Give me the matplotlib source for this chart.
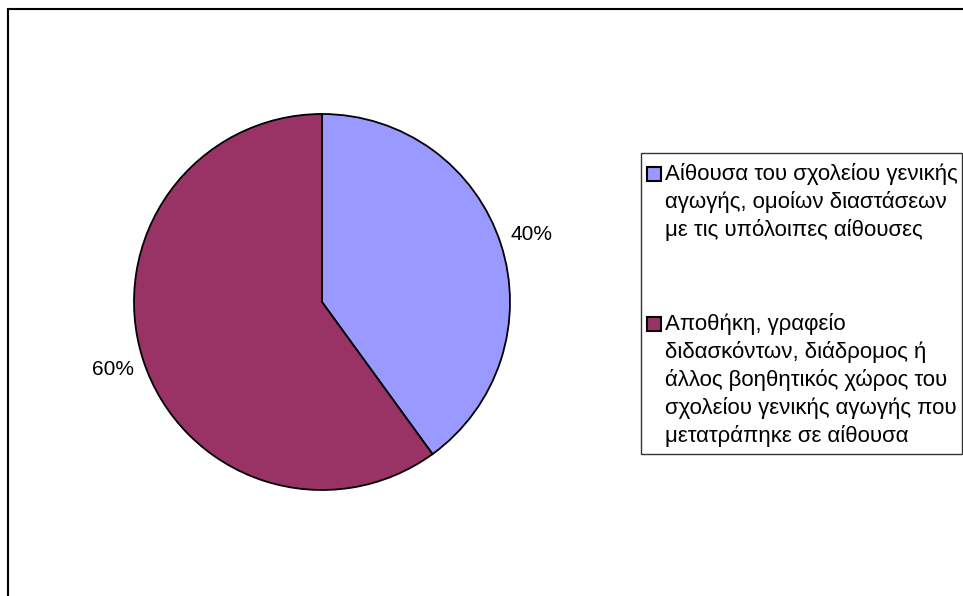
import matplotlib.pyplot as plt
import matplotlib.patches as mpatches
import numpy as np

plt.rcParams['font.family'] = ['Liberation Sans', 'DejaVu Sans']

labels = [
    "Αίθουσα του σχολείου γενικής\nαγωγής, ομοίων διαστάσεων\nμε τις υπόλοιπες αίθουσες",
    "Αποθήκη, γραφείο\nδιδασκόντων, διάδρομος ή\nάλλος βοηθητικός χώρος του\nσχολείου γενικής αγωγής που\nμετατράπηκε σε αίθουσα",
]
values = [40, 60]
pct_labels = ["40%", "60%"]
colors = ["#9999FF", "#993366"]

W, H = 963, 596
fig = plt.figure(figsize=(W / 100, H / 100), dpi=100)

# chart outer border (runs off the right/bottom edge)
fig.patches.append(mpatches.Rectangle((8 / W, -0.1), 1.1, 1 - 9 / H + 0.1,
                                      transform=fig.transFigure, fill=False,
                                      edgecolor='black', linewidth=1.5))

cx, cy, r = 322, 302, 188
ax = fig.add_axes([(cx - r) / W, (H - cy - r) / H, 2 * r / W, 2 * r / H])
wedges, _ = ax.pie(values, colors=colors, startangle=90, counterclock=False,
                   radius=1, wedgeprops=dict(edgecolor='black', linewidth=1.3))
ax.set_xlim(-1, 1)
ax.set_ylim(-1, 1)
ax.set_aspect('equal')
ax.axis('off')

for w, txt in zip(wedges, pct_labels):
    ang = np.deg2rad((w.theta1 + w.theta2) / 2)
    ax.text(1.17 * np.cos(ang), 1.17 * np.sin(ang), txt, ha='center', va='center',
            fontsize=15, clip_on=False)

# legend
def px(x, y):
    return x / W, 1 - y / H

lx0, ly0, lx1, ly1 = 641, 153, 962, 454
fig.patches.append(mpatches.Rectangle(px(lx0, ly1), (lx1 - lx0) / W, (ly1 - ly0) / H,
                                      transform=fig.transFigure, fill=False,
                                      edgecolor='#333333', linewidth=1))
entry_tops = [174, 324]
line_h = 28
for lab, c, yc in zip(labels, colors, entry_tops):
    fig.patches.append(mpatches.Rectangle(px(647, yc + 7), 14 / W, 14 / H,
                                          transform=fig.transFigure, facecolor=c,
                                          edgecolor='black', linewidth=1.5))
    for i, line in enumerate(lab.split('\n')):
        fig.text(*px(665, yc + i * line_h), line, ha='left', va='center',
                 fontsize=16)

fig.savefig('out.png', dpi=100)
